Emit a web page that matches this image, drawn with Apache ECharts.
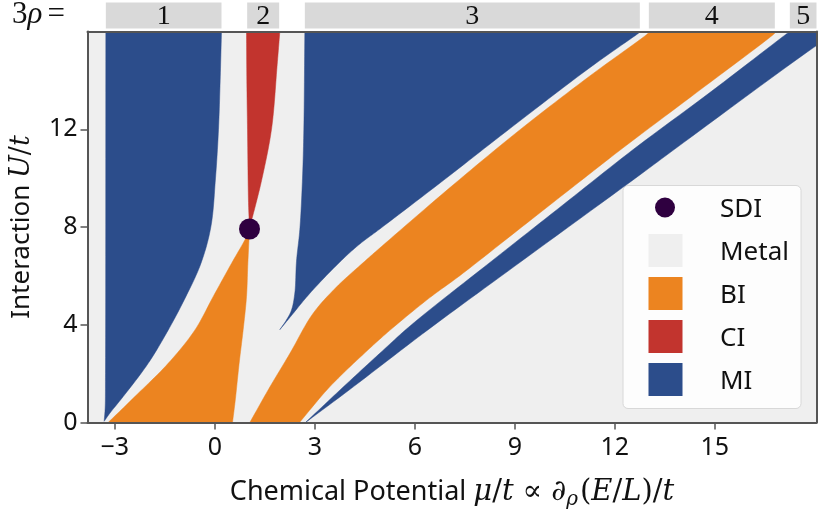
<!DOCTYPE html>
<html>
<head>
<meta charset="utf-8">
<script src="https://cdn.jsdelivr.net/npm/echarts@6.0.0/dist/echarts.min.js"></script>
<style>
html, body { margin: 0; padding: 0; background: #fff; }
#main { width: 829px; height: 509px; }
</style>
</head>
<body>
<div id="main"></div>
<script>
// axes
const xMin = -3.82
const xMax = 18.05
const yMin = 0
const yMax = 16
const xTicks = [-3, 0, 3, 6, 9, 12, 15]
const yTicks = [0, 4, 8, 12]

// phase boundaries, points are [mu/t, U/t]
// MI, 3rho = 1
const mi1Left = [[-3.32, 0.05], [-3.29, 0.6], [-3.28, 2], [-3.27, 16]]
const mi1Right = [[0.2, 16], [0.16, 14], [0.11, 12], [0.02, 10], [-0.12, 8], [-0.42, 6.5], [-0.87, 5.15],
  [-1.4, 3.78], [-2.0, 2.42], [-2.75, 1.06], [-3.15, 0.38], [-3.32, 0.05]]
// BI, 3rho = 2 (below the SDI point)
const bi2Left = [[-3.2, 0], [-2.4, 1.06], [-1.4, 2.42], [-0.6, 3.78], [-0.05, 5.15], [0.5, 6.51], [0.95, 7.6], [1.04, 7.92]]
const bi2Right = [[1.04, 7.92], [0.99, 6.5], [0.95, 5.15], [0.85, 3.8], [0.73, 2.43], [0.61, 0.88], [0.53, 0]]
// CI, 3rho = 2 (above the SDI point)
const ci2Left = [[1.04, 7.92], [1.01, 9], [0.98, 12], [0.96, 14], [0.95, 16]]
const ci2Right = [[1.95, 16], [1.87, 14.64], [1.7, 12], [1.4, 9.89], [1.23, 8.94], [1.1, 8.26], [1.04, 7.92]]
// MI, 3rho = 3
const mi3Left = [[1.95, 3.8], [2.15, 4.2], [2.3, 4.6], [2.4, 5.3], [2.45, 6.6], [2.55, 7.9], [2.63, 10], [2.67, 12], [2.7, 16]]
const mi3Right = [[12.78, 16], [12.65, 15.87], [11.25, 14.52], [8.75, 11.92], [6.85, 9.9], [4.95, 7.92],
  [4.3, 7.25], [3.7, 6.5], [2.84, 5.27], [2.3, 4.38], [1.95, 3.8]]
// BI, 3rho = 4
const bi4Left = [[1.05, 0], [1.65, 1.45], [2.25, 2.82], [2.94, 4.45], [3.64, 5.53], [4.5, 6.6], [5.0, 7.2],
  [7.0, 9.55], [9.1, 11.92], [11.25, 14.18], [12.95, 15.87], [13.05, 16]]
const bi4Right = [[16.85, 16], [16.75, 15.87], [14.45, 13.5], [12.2, 11.19], [11.08, 10], [9.21, 8], [7.34, 6],
  [6.44, 5.1], [5.25, 3.77], [4.5, 2.85], [3.44, 1.45], [2.54, 0]]
// MI, 3rho = 5
const mi5Left = [[2.72, 0], [3.85, 1.45], [4.94, 2.82], [5.9, 4.0], [8.3, 6.6], [10.44, 8.9], [12.57, 11.19],
  [14.85, 13.5], [17.11, 15.86], [17.25, 16]]
const mi5Right = [[18.7, 16], [17.95, 15.33], [13.8, 11.19], [12.72, 10.1], [9.0, 6.4], [6.4, 3.8], [4.0, 1.3], [2.72, 0]]

// special point
const sdiPoint = [1.04, 7.92]

// filling labels on top
const boxLo = [-3.27, 0.97, 2.7, 13.02, 17.25]
const boxHi = [0.2, 1.93, 12.75, 16.8, 18.05]
const boxLabels = ['1', '2', '3', '4', '5']

// legend
const legendNames = ['SDI', 'Metal', 'BI', 'CI', 'MI']
const legendColors = ['#2f0040', '#efefef', '#ec8420', '#c2342e', '#2c4d8b']

const colMI = '#2c4d8b'
const colBI = '#ec8420'
const colCI = '#c2342e'
const colMetal = '#efefef'
const colSDI = '#2f0040'
const colFrame = '#555555'

// each region = [one edge, other edge], drawn as one closed shape
const miRegions = [[mi1Left, mi1Right], [mi3Left, mi3Right], [mi5Left, mi5Right]]
const biRegions = [[bi2Left, bi2Right], [bi4Left, bi4Right]]
const ciRegions = [[ci2Left, ci2Right]]

// centripetal catmull-rom through the read points (pixel space) so the edges come out as curves
function smoothEdge (pts) {
  let n = pts.length
  if (n < 3) return pts
  let ext = [[2 * pts[0][0] - pts[1][0], 2 * pts[0][1] - pts[1][1]]].concat(pts,
    [[2 * pts[n - 1][0] - pts[n - 2][0], 2 * pts[n - 1][1] - pts[n - 2][1]]])
  function lerp (a, b, ta, tb, t) {
    let w = tb - ta < 1e-9 ? 0 : (t - ta) / (tb - ta)
    return [a[0] + (b[0] - a[0]) * w, a[1] + (b[1] - a[1]) * w]
  }
  function knot (t, a, b) {
    return t + Math.max(Math.pow(Math.hypot(b[0] - a[0], b[1] - a[1]), 0.5), 1e-4)
  }
  let out = []
  for (let i = 1; i < ext.length - 2; i++) {
    let p0 = ext[i - 1]
    let p1 = ext[i]
    let p2 = ext[i + 1]
    let p3 = ext[i + 2]
    let t0 = 0
    let t1 = knot(t0, p0, p1)
    let t2 = knot(t1, p1, p2)
    let t3 = knot(t2, p2, p3)
    for (let k = 0; k < 12; k++) {
      let t = t1 + (t2 - t1) * k / 12
      let a1 = lerp(p0, p1, t0, t1, t)
      let a2 = lerp(p1, p2, t1, t2, t)
      let a3 = lerp(p2, p3, t2, t3, t)
      let b1 = lerp(a1, a2, t0, t2, t)
      let b2 = lerp(a2, a3, t1, t3, t)
      out.push(lerp(b1, b2, t1, t2, t))
    }
  }
  out.push(pts[n - 1])
  return out
}

function regionSeries (name, regions, color) {
  return {
    name: name,
    type: 'custom',
    clip: true,
    xAxisIndex: 0,
    yAxisIndex: 0,
    data: regions.map(function (r, i) { return [r[0][0][0], r[0][0][1], i] }),
    renderItem: function (params, api) {
      let r = regions[api.value(2)]
      let a = smoothEdge(r[0].map(function (p) { return api.coord(p) }))
      let b = smoothEdge(r[1].map(function (p) { return api.coord(p) }))
      return {
        type: 'polygon',
        shape: { points: a.concat(b) },
        style: { fill: color, stroke: color, lineWidth: 0.5 }
      }
    },
    silent: true,
    z: 2
  }
}

const sans = 'Noto Sans'
const serif = 'DejaVu Serif'

const xNameRich = {
  a: { fontFamily: sans, fontSize: 27, color: '#111' },
  m: { fontFamily: serif, fontStyle: 'italic', fontSize: 29, color: '#111' },
  u: { fontFamily: serif, fontSize: 29, color: '#111' },
  r: { fontFamily: serif, fontSize: 29, color: '#111', padding: [0, 9, 0, 9] },
  s: { fontFamily: serif, fontStyle: 'italic', fontSize: 20, color: '#111', verticalAlign: 'bottom', padding: [15, 2, 0, 0] }
}
const yNameRich = {
  a: { fontFamily: sans, fontSize: 26, color: '#111' },
  m: { fontFamily: serif, fontStyle: 'italic', fontSize: 27, color: '#111' },
  u: { fontFamily: serif, fontSize: 27, color: '#111' }
}

// legend drawn by hand so the marker sizes match the figure
let legendChildren = [{
  type: 'rect',
  shape: { x: 0, y: 0, width: 178, height: 223, r: 5 },
  style: { fill: 'rgba(255,255,255,0.85)', stroke: '#d8d8d8', lineWidth: 1 }
}]
const legendRowY = [22, 65, 108, 151, 194]
for (let i = 0; i < legendNames.length; i++) {
  if (i === 0) {
    legendChildren.push({ type: 'circle', shape: { cx: 42, cy: legendRowY[i], r: 10 }, style: { fill: legendColors[i] } })
  } else {
    legendChildren.push({ type: 'rect', shape: { x: 25.5, y: legendRowY[i] - 16.5, width: 34, height: 33 }, style: { fill: legendColors[i] } })
  }
  legendChildren.push({
    type: 'text',
    style: { x: 97, y: legendRowY[i] + 2, text: legendNames[i], fontFamily: sans, fontSize: 26, fill: '#111', verticalAlign: 'middle' }
  })
}

let myChart = echarts.init(document.getElementById('main'))
let option = {
  animation: false,
  backgroundColor: '#fff',
  grid: [
    { left: 87.5, right: 12.5, top: 31.5, bottom: 86.5, outerBoundsMode: 'none', show: true, backgroundColor: colMetal, borderWidth: 0 },
    { left: 87.5, right: 12.5, top: 2.5, height: 26, outerBoundsMode: 'none' }
  ],
  xAxis: [
    {
      type: 'value', gridIndex: 0, min: xMin, max: xMax, position: 'bottom', z: 10,
      splitLine: { show: false },
      axisLine: { show: true, onZero: false, lineStyle: { color: colFrame, width: 2 } },
      axisTick: { show: true, length: 7, customValues: xTicks, lineStyle: { color: colFrame, width: 1.5 } },
      axisLabel: {
        customValues: xTicks, margin: 13, fontFamily: sans, fontSize: 25, color: '#111',
        formatter: function (v) { return String(v).replace('-', '\u2212') }
      },
      name: '{a|Chemical Potential }{m|\u03bc}{u|/}{m|t}{r|\u221d}{u|\u2202}{s|\u03c1}{u|(}{m|E}{u|/}{m|L}{u|)/}{m|t}',
      nameLocation: 'middle',
      nameGap: 52,
      nameTextStyle: { rich: xNameRich }
    },
    {
      type: 'value', gridIndex: 0, min: xMin, max: xMax, position: 'top', z: 10,
      splitLine: { show: false }, axisTick: { show: false }, axisLabel: { show: false },
      axisLine: { show: true, onZero: false, lineStyle: { color: colFrame, width: 2 } }
    },
    { type: 'value', gridIndex: 1, min: xMin, max: xMax, show: false }
  ],
  yAxis: [
    {
      type: 'value', gridIndex: 0, min: yMin, max: yMax, position: 'left', z: 10,
      splitLine: { show: false },
      axisLine: { show: true, onZero: false, lineStyle: { color: colFrame, width: 2 } },
      axisTick: { show: true, length: 7, customValues: yTicks, lineStyle: { color: colFrame, width: 1.5 } },
      axisLabel: { customValues: yTicks, margin: 10, fontFamily: sans, fontSize: 25, color: '#111' },
      name: '{a|Interaction }{m|U}{u|/}{m|t}',
      nameLocation: 'middle',
      nameRotate: 90,
      nameGap: 52,
      nameTextStyle: { rich: yNameRich }
    },
    {
      type: 'value', gridIndex: 0, min: yMin, max: yMax, position: 'right', z: 10,
      splitLine: { show: false }, axisTick: { show: false }, axisLabel: { show: false },
      axisLine: { show: true, onZero: false, lineStyle: { color: colFrame, width: 2 } }
    },
    { type: 'value', gridIndex: 1, min: 0, max: 1, show: false }
  ],
  series: [
    regionSeries('MI', miRegions, colMI),
    regionSeries('BI', biRegions, colBI),
    regionSeries('CI', ciRegions, colCI),
    {
      name: 'SDI',
      type: 'scatter',
      xAxisIndex: 0,
      yAxisIndex: 0,
      data: [sdiPoint],
      symbolSize: 21,
      itemStyle: { color: colSDI, opacity: 1 },
      z: 5
    },
    {
      name: 'filling',
      type: 'custom',
      xAxisIndex: 2,
      yAxisIndex: 2,
      data: boxLabels.map(function (l, i) { return [boxLo[i], boxHi[i], i] }),
      renderItem: function (params, api) {
        let p0 = api.coord([api.value(0), 1])
        let p1 = api.coord([api.value(1), 0])
        return {
          type: 'group',
          children: [{
            type: 'rect',
            shape: { x: p0[0], y: p0[1], width: p1[0] - p0[0], height: p1[1] - p0[1] },
            style: { fill: '#d9d9d9' }
          }, {
            type: 'text',
            style: {
              x: (p0[0] + p1[0]) / 2, y: (p0[1] + p1[1]) / 2 + 1,
              text: boxLabels[api.value(2)],
              fontFamily: 'Liberation Serif', fontSize: 28, fill: '#111',
              align: 'center', verticalAlign: 'middle'
            }
          }]
        }
      },
      silent: true
    }
  ],
  graphic: [
    {
      type: 'text',
      left: 12,
      top: -1,
      style: {
        text: '{n|3}{i|\u03c1}{n|=}',
        rich: {
          n: { fontFamily: 'Liberation Serif', fontSize: 31, fill: '#111' },
          i: { fontFamily: 'Liberation Serif', fontStyle: 'italic', fontSize: 31, fill: '#111', padding: [0, 5, 0, 0] }
        }
      }
    },
    {
      type: 'group',
      left: 622.5,
      top: 185,
      z: 20,
      children: legendChildren
    }
  ]
}
myChart.setOption(option)
</script>
</body>
</html>
